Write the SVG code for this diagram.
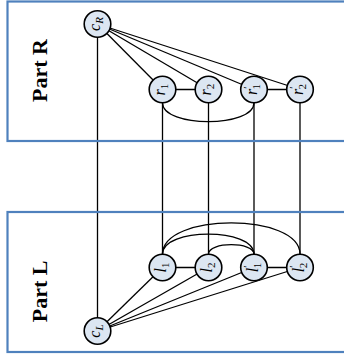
<svg xmlns="http://www.w3.org/2000/svg" width="344" height="358" viewBox="0 0 344 358">
<style>
.box{fill:none;stroke:#4f81bd;stroke-width:2.2}
.part{font-family:"Liberation Serif",serif;font-weight:bold;font-size:22px;fill:#000}
.edge{fill:none;stroke:#000;stroke-width:1.3}
.node circle{fill:#dce6f2;stroke:#000;stroke-width:1.6}
.lbl{font-family:"Liberation Serif",serif;font-style:italic;font-size:16px;fill:#000}
.sub{font-size:11px;font-style:normal}
.subi{font-size:11px}
</style>
<rect width="344" height="358" fill="#fff"/>
<g id="connectors">
  <line class="edge" x1="97.5" y1="24" x2="97.5" y2="331"/>
  <line class="edge" x1="162.5" y1="89.5" x2="162.5" y2="267.5"/>
  <line class="edge" x1="208.5" y1="89.5" x2="208.5" y2="267.5"/>
  <line class="edge" x1="254" y1="89.5" x2="254" y2="267.5"/>
  <line class="edge" x1="300" y1="89.5" x2="300" y2="267.5"/>
  <line class="edge" x1="97.5" y1="24" x2="162.5" y2="89.5"/>
  <line class="edge" x1="97.5" y1="24" x2="208.5" y2="89.5"/>
  <line class="edge" x1="97.5" y1="24" x2="254" y2="89.5"/>
  <line class="edge" x1="97.5" y1="24" x2="300" y2="89.5"/>
  <line class="edge" x1="162.5" y1="89.5" x2="208.5" y2="89.5"/>
  <line class="edge" x1="254" y1="89.5" x2="300" y2="89.5"/>
  <path class="edge" d="M162.5,102.8 C162.5,128 254,128 254,102.8"/>
  <line class="edge" x1="97.5" y1="331" x2="162.5" y2="267.5"/>
  <line class="edge" x1="97.5" y1="331" x2="208.5" y2="267.5"/>
  <line class="edge" x1="97.5" y1="331" x2="254" y2="267.5"/>
  <line class="edge" x1="97.5" y1="331" x2="300" y2="267.5"/>
  <line class="edge" x1="162.5" y1="267.5" x2="208.5" y2="267.5"/>
  <line class="edge" x1="254" y1="267.5" x2="300" y2="267.5"/>
  <path class="edge" d="M162.5,254.2 C162.5,227.5 254,227.5 254,254.2"/>
  <path class="edge" d="M162.5,254.2 C162.5,212.5 300,212.5 300,254.2"/>
  <path class="edge" d="M208.5,254.2 C208.5,241.5 254,241.5 254,254.2"/>
</g>
<g id="partR">
  <rect class="box" x="7.5" y="1.5" width="345" height="139.5"/>
  <text class="part" x="39" y="78.2" text-anchor="middle" transform="rotate(-90 39 70.5)">Part R</text>
</g>
<g id="partL">
  <rect class="box" x="7.5" y="212" width="345" height="140"/>
  <text class="part" x="39" y="299" text-anchor="middle" transform="rotate(-90 39 291.3)">Part L</text>
</g>
<g id="cR" class="node">
  <circle cx="97.5" cy="24" r="13.3"/>
  <text class="lbl" x="97.5" y="26" text-anchor="middle" transform="rotate(-90 97.5 24)">c<tspan class="subi" dy="3">R</tspan></text>
</g>
<g id="r1" class="node">
  <circle cx="162.5" cy="89.5" r="13.3"/>
  <text class="lbl" x="162.5" y="92" text-anchor="middle" transform="rotate(-90 162.5 89.5)">r<tspan class="sub" dy="3">1</tspan></text>
</g>
<g id="r2" class="node">
  <circle cx="208.5" cy="89.5" r="13.3"/>
  <text class="lbl" x="208.5" y="92" text-anchor="middle" transform="rotate(-90 208.5 89.5)">r<tspan class="sub" dy="3">2</tspan></text>
</g>
<g id="r1p" class="node">
  <circle cx="254" cy="89.5" r="13.3"/>
  <text class="lbl" x="254" y="92" text-anchor="middle" transform="rotate(-90 254 89.5)">r<tspan class="sub" dy="-6">′</tspan><tspan class="sub" dx="-3" dy="9">1</tspan></text>
</g>
<g id="r2p" class="node">
  <circle cx="300" cy="89.5" r="13.3"/>
  <text class="lbl" x="300" y="92" text-anchor="middle" transform="rotate(-90 300 89.5)">r<tspan class="sub" dy="-6">′</tspan><tspan class="sub" dx="-3" dy="9">2</tspan></text>
</g>
<g id="l1" class="node">
  <circle cx="162.5" cy="267.5" r="13.3"/>
  <text class="lbl" x="162.5" y="271" text-anchor="middle" transform="rotate(-90 162.5 267.5)">l<tspan class="sub" dy="3">1</tspan></text>
</g>
<g id="l2" class="node">
  <circle cx="208.5" cy="267.5" r="13.3"/>
  <text class="lbl" x="208.5" y="271" text-anchor="middle" transform="rotate(-90 208.5 267.5)">l<tspan class="sub" dy="3">2</tspan></text>
</g>
<g id="l1p" class="node">
  <circle cx="254" cy="267.5" r="13.3"/>
  <text class="lbl" x="254" y="271" text-anchor="middle" transform="rotate(-90 254 267.5)">l<tspan class="sub" dy="-7">′</tspan><tspan class="sub" dx="-3" dy="10">1</tspan></text>
</g>
<g id="l2p" class="node">
  <circle cx="300" cy="267.5" r="13.3"/>
  <text class="lbl" x="300" y="271" text-anchor="middle" transform="rotate(-90 300 267.5)">l<tspan class="sub" dy="-7">′</tspan><tspan class="sub" dx="-3" dy="10">2</tspan></text>
</g>
<g id="cL" class="node">
  <circle cx="97.5" cy="331" r="13.3"/>
  <text class="lbl" x="97.5" y="333" text-anchor="middle" transform="rotate(-90 97.5 331)">c<tspan class="subi" dy="3">L</tspan></text>
</g>
</svg>
